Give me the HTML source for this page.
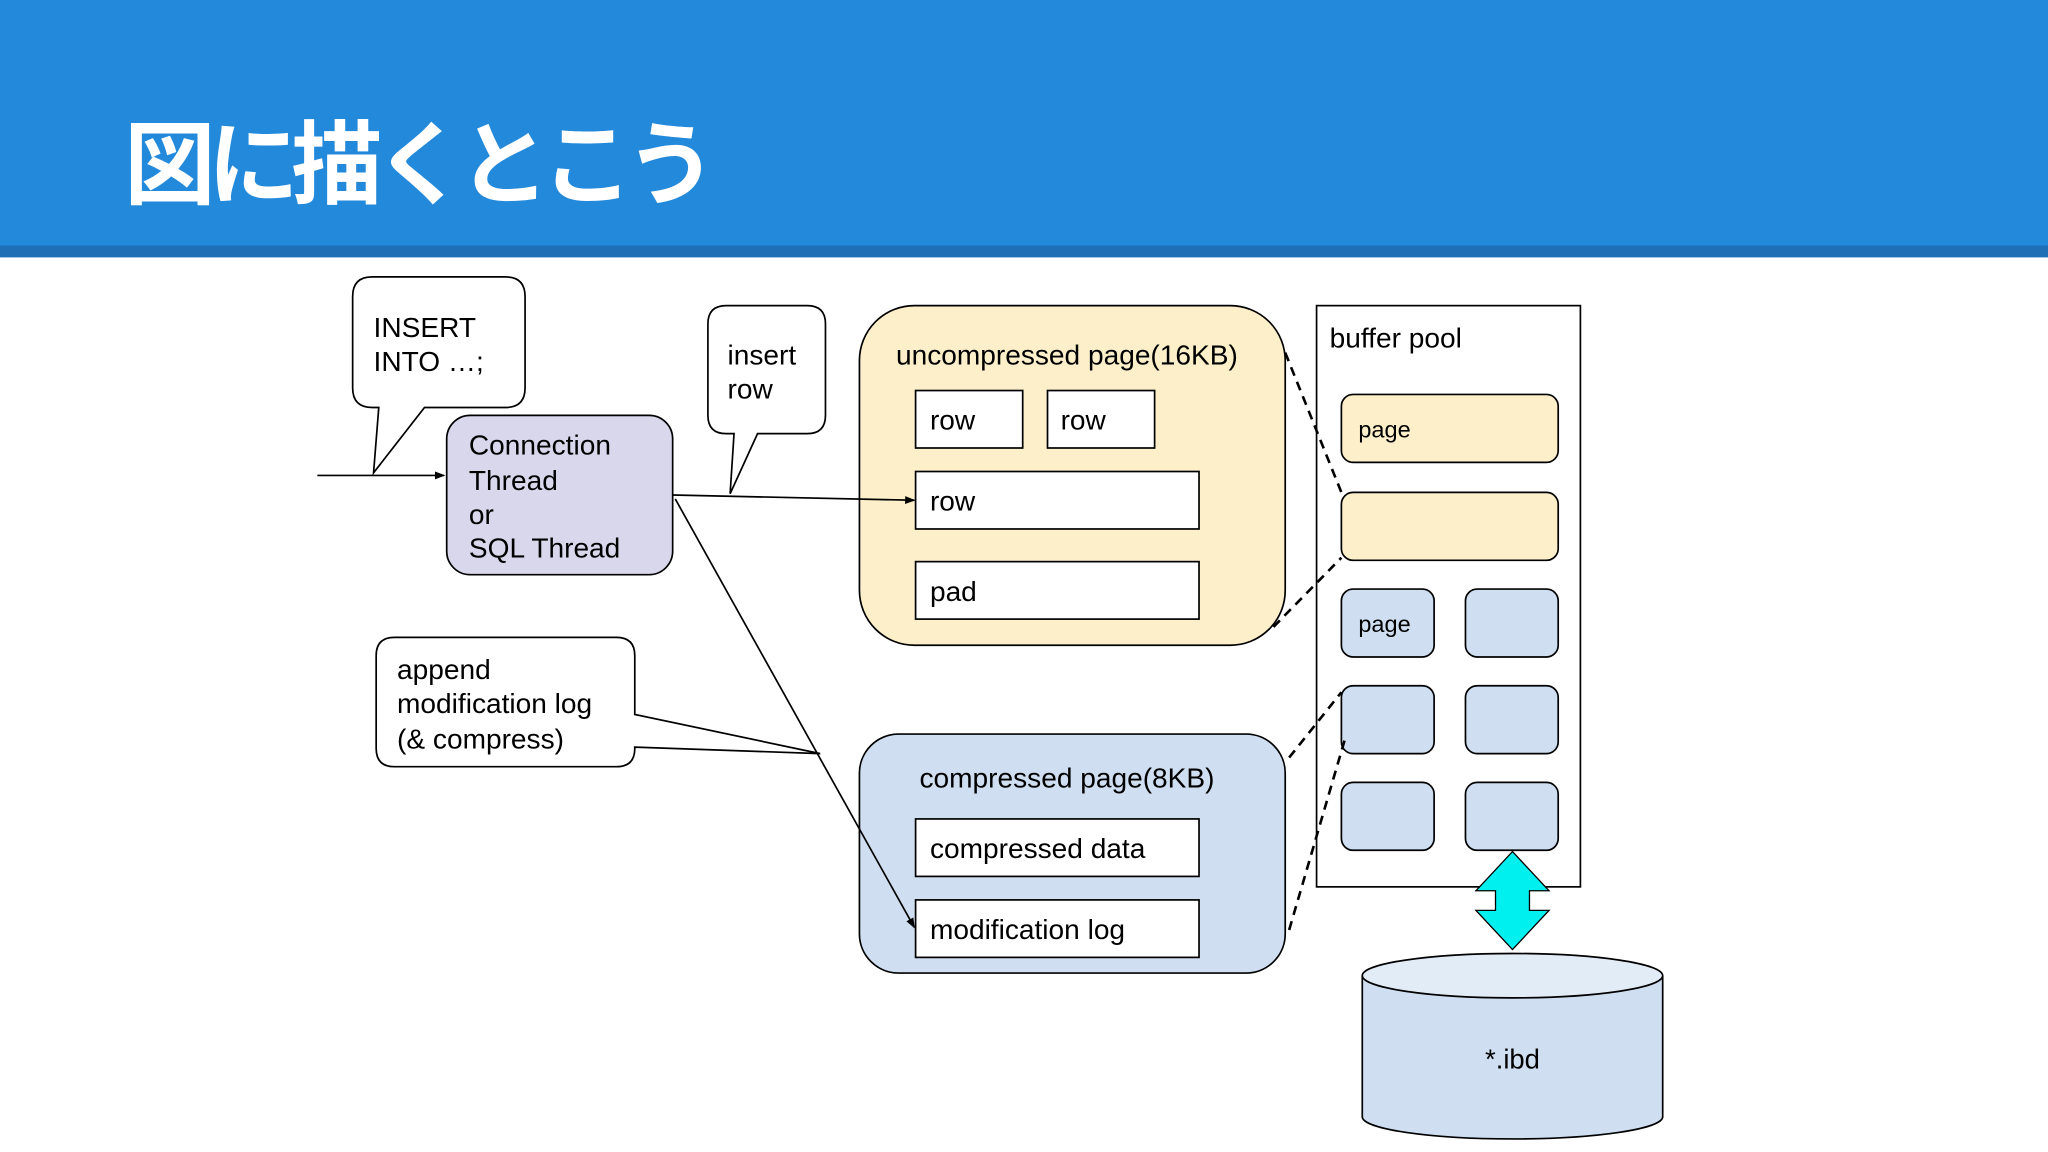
<!DOCTYPE html>
<html><head><meta charset="utf-8"><style>html,body{margin:0;padding:0;background:#fff}svg{display:block}</style></head><body>
<svg width="2048" height="1152" viewBox="0 0 1568 882" preserveAspectRatio="none" xmlns="http://www.w3.org/2000/svg" font-family="Liberation Sans, sans-serif">
<defs><marker id="a" markerWidth="8" markerHeight="6" refX="7" refY="3" orient="auto" markerUnits="userSpaceOnUse"><path d="M0,0 L8,3 L0,6z" fill="#000"/></marker></defs>
<rect x="0" y="0" width="1568" height="197" fill="#2389db"/>
<rect x="0" y="188" width="1568" height="9" fill="#1e6fb5"/>
<text x="95" y="151" font-size="70" font-weight="bold" fill="#fff" letter-spacing="-6" font-family="Liberation Sans, Noto Sans CJK JP, sans-serif">図に描くとこう</text>
<g stroke="#000" stroke-width="1.3" fill="#fff">
<path d="M285,212 H387 Q402,212 402,227 V297 Q402,312 387,312 H325 L286,362 L290,312 H285 Q270,312 270,297 V227 Q270,212 285,212Z"/>
<path d="M556,234 H618 Q632,234 632,248 V318 Q632,332 618,332 H580 L559,378 L562,332 H556 Q542,332 542,318 V248 Q542,234 556,234Z"/>
<path d="M302,488 H472 Q486,488 486,502 V547 L628,577 L486,572 V573 Q486,587 472,587 H302 Q288,587 288,573 V502 Q288,488 302,488Z"/>
</g>
<rect x="342" y="318" width="173" height="122" rx="18" fill="#d9d7ec" stroke="#000" stroke-width="1.3"/>
<g font-size="21.5" fill="#000">
<text x="286" y="258">INSERT</text><text x="286" y="284">INTO …;</text>
<text x="557" y="279">insert</text><text x="557" y="305">row</text>
<text x="359" y="348">Connection</text><text x="359" y="375">Thread</text><text x="359" y="401">or</text><text x="359" y="427">SQL Thread</text>
<text x="304" y="520">append</text><text x="304" y="546">modification log</text><text x="304" y="573">(&amp; compress)</text>
</g>
<rect x="658" y="234" width="326" height="260" rx="42" fill="#fdefc9" stroke="#000" stroke-width="1.3"/>
<rect x="658" y="562" width="326" height="183" rx="30" fill="#cfdff1" stroke="#000" stroke-width="1.3"/>
<g fill="#fff" stroke="#000" stroke-width="1.3">
<rect x="701" y="299" width="82" height="44"/><rect x="802" y="299" width="82" height="44"/>
<rect x="701" y="361" width="217" height="44"/><rect x="701" y="430" width="217" height="44"/>
<rect x="701" y="627" width="217" height="44"/><rect x="701" y="689" width="217" height="44"/>
<rect x="1008" y="234" width="202" height="445"/>
</g>
<g font-size="21.5" fill="#000">
<text x="686" y="279">uncompressed page(16KB)</text>
<text x="712" y="329">row</text><text x="812" y="329">row</text><text x="712" y="391">row</text><text x="712" y="460">pad</text>
<text x="704" y="603">compressed page(8KB)</text>
<text x="712" y="657">compressed data</text><text x="712" y="719">modification log</text>
<text x="1018" y="266">buffer pool</text>
</g>
<g stroke="#000" stroke-width="1.3">
<rect x="1027" y="302" width="166" height="52" rx="9" fill="#fdefc9"/>
<rect x="1027" y="377" width="166" height="52" rx="9" fill="#fdefc9"/>
<g fill="#cfdff1">
<rect x="1027" y="451" width="71" height="52" rx="9"/><rect x="1122" y="451" width="71" height="52" rx="9"/>
<rect x="1027" y="525" width="71" height="52" rx="9"/><rect x="1122" y="525" width="71" height="52" rx="9"/>
<rect x="1027" y="599" width="71" height="52" rx="9"/><rect x="1122" y="599" width="71" height="52" rx="9"/>
</g>
</g>
<g font-size="18" fill="#000"><text x="1040" y="335">page</text><text x="1040" y="484">page</text></g>
<g stroke="#000" stroke-width="1.3" fill="none">
<line x1="243" y1="364" x2="340" y2="364" marker-end="url(#a)"/>
<line x1="515" y1="379" x2="700" y2="383" marker-end="url(#a)"/>
<line x1="517" y1="382" x2="700" y2="710" marker-end="url(#a)"/>
</g>
<g stroke="#000" stroke-width="2" stroke-dasharray="7,5" fill="none">
<line x1="984" y1="270" x2="1027" y2="377"/>
<line x1="975" y1="480" x2="1027" y2="427"/>
<line x1="987" y1="580" x2="1027" y2="530"/>
<line x1="987" y1="712" x2="1030" y2="565"/>
</g>
<path d="M1158,652 L1186,682 H1171 V697 H1186 L1158,727 L1130,697 H1145 V682 H1130Z" fill="#00f0f0" stroke="#000" stroke-width="1"/>
<path d="M1043,747 V855 A115,17 0 0 0 1273,855 V747" fill="#cfdff1" stroke="#000" stroke-width="1.3"/>
<ellipse cx="1158" cy="747" rx="115" ry="17" fill="#e2ecf7" stroke="#000" stroke-width="1.3"/>
<text x="1158" y="818" font-size="21" text-anchor="middle">*.ibd</text>
</svg>
</body></html>
